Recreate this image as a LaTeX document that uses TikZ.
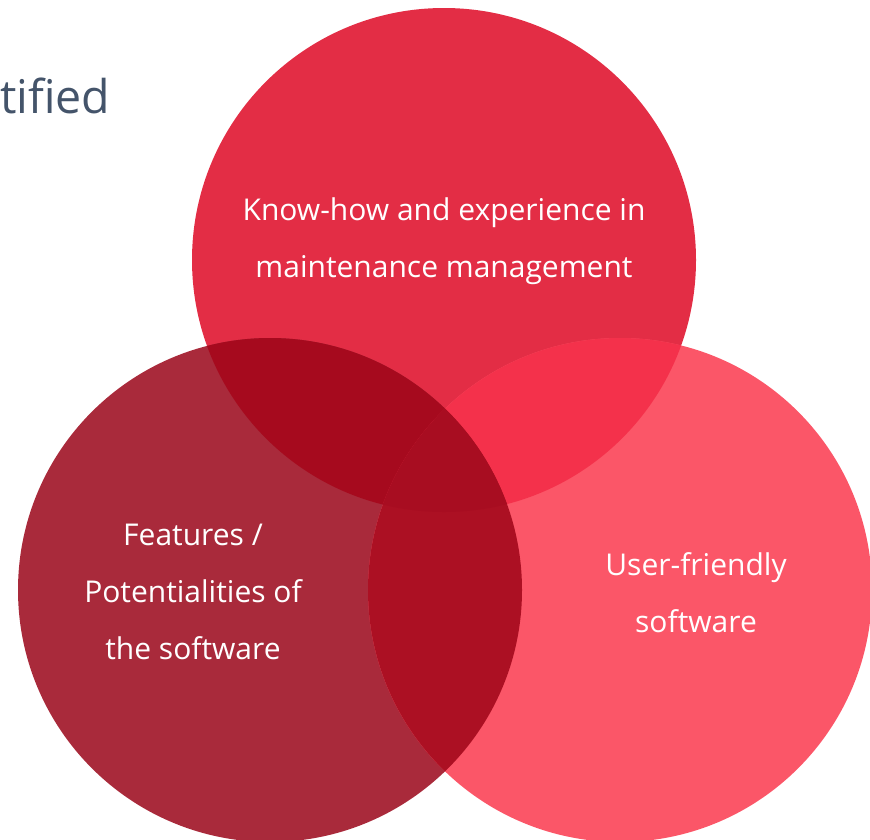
\documentclass[tikz,border=0pt]{standalone}
\usepackage{fontspec}
\setmainfont{Open Sans}
\usepackage{tikz}

\definecolor{knowhowred}{HTML}{E32D45}
\definecolor{featurered}{HTML}{A92A3B}
\definecolor{userred}{HTML}{FB5668}
\definecolor{knowfeat}{HTML}{A60A1E}
\definecolor{knowuser}{HTML}{F4314B}
\definecolor{featuser}{HTML}{AC1023}
\definecolor{allthree}{HTML}{A80D21}
\definecolor{titlegray}{HTML}{44546A}

\begin{document}
\begin{tikzpicture}[x=1pt,y=-1pt,
	label/.style={text=white,align=center,font=\fontsize{30}{57}\selectfont},
	title/.style={text=titlegray,anchor=base west,inner sep=0pt,font=\fontsize{46.5}{50}\selectfont}]
	\useasboundingbox (0,0) rectangle (870,839);
	\coordinate (knowhow) at (444,260);
	\coordinate (features) at (270,590);
	\coordinate (userfr) at (620,590);
	% circles
	\fill[knowhowred] (knowhow) circle (252);
	\fill[featurered] (features) circle (252);
	\fill[userred] (userfr) circle (252);
	% overlaps
	\begin{scope}
		\clip (knowhow) circle (252);
		\fill[knowfeat] (features) circle (252);
		\fill[knowuser] (userfr) circle (252);
	\end{scope}
	\begin{scope}
		\clip (features) circle (252);
		\fill[featuser] (userfr) circle (252);
		\clip (userfr) circle (252);
		\fill[allthree] (knowhow) circle (252);
	\end{scope}
	% texts
	\node[title] (heading) at (0,113) {tified};
	\node[label] (knowtext) at (444,241) {Know-how and experience in\\maintenance management};
	\node[label] (feattext) at (193,592) {Features /\\Potentialities of\\the software};
	\node[label] (usertext) at (696,593) {User-friendly\\software};
\end{tikzpicture}
\end{document}
